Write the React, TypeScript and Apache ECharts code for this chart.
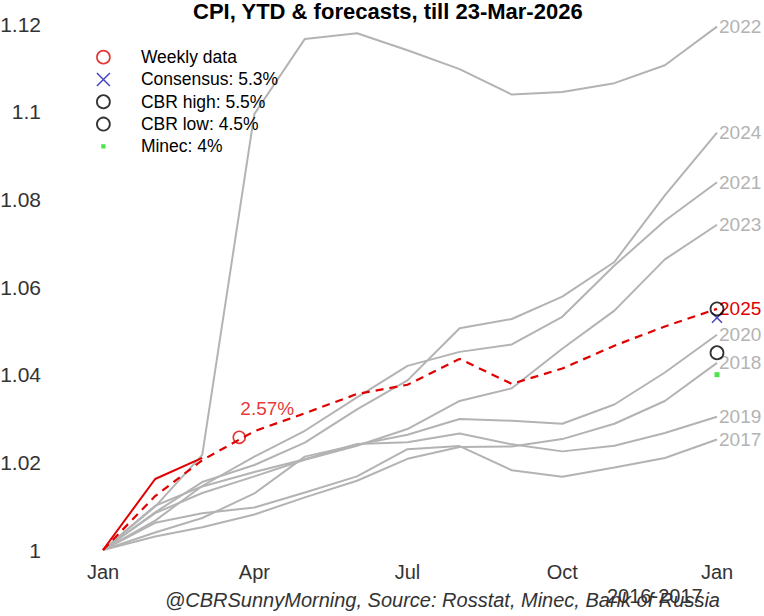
import React, { useEffect, useRef } from "react";
import * as echarts from "echarts";

// x positions: day of year at each month end (0 = 1 Jan)
const monthEndDays = [0, 31, 59, 90, 120, 151, 181, 212, 243, 273, 304, 334, 365];
const xTickDays = [0, 90, 181, 273, 365];
const xTickLabels = ["Jan", "Apr", "Jul", "Oct", "Jan"];

// Cumulative CPI since start of year (YTD), month ends
const cpi2017 = [1, 1.0062, 1.0084, 1.0097, 1.0131, 1.0168, 1.023, 1.0237, 1.0182, 1.0167, 1.0188, 1.021, 1.0252];
const cpi2018 = [1, 1.0031, 1.0052, 1.0081, 1.012, 1.0158, 1.0208, 1.0235, 1.0236, 1.0253, 1.0288, 1.034, 1.0427];
const cpi2019 = [1, 1.0101, 1.0145, 1.0178, 1.0207, 1.0242, 1.0246, 1.0266, 1.0241, 1.0225, 1.0238, 1.0267, 1.0304];
const cpi2020 = [1, 1.004, 1.0073, 1.0129, 1.0213, 1.024, 1.0263, 1.0299, 1.0295, 1.0288, 1.0332, 1.0405, 1.0491];
const cpi2021 = [1, 1.0067, 1.0146, 1.0213, 1.0272, 1.0348, 1.042, 1.0452, 1.0469, 1.0532, 1.0649, 1.0751, 1.0839];
const cpi2022 = [1, 1.0099, 1.0217, 1.0995, 1.1166, 1.1179, 1.114, 1.1097, 1.1039, 1.1045, 1.1065, 1.1106, 1.1194];
const cpi2023 = [1, 1.0084, 1.013, 1.0168, 1.0206, 1.0238, 1.0276, 1.034, 1.0369, 1.0459, 1.0546, 1.0663, 1.0742];
const cpi2024 = [1, 1.0086, 1.0155, 1.0194, 1.0245, 1.0321, 1.0387, 1.0506, 1.0527, 1.0578, 1.0657, 1.0809, 1.0952];
const cpi2025 = [1, 1.0123, 1.0205, 1.0271, 1.0312, 1.0356, 1.0377, 1.0436, 1.0379, 1.0414, 1.0466, 1.051, 1.055];
const cpi2026 = [1, 1.0162, 1.021];

const grayYears = ["2017", "2018", "2019", "2020", "2021", "2022", "2023", "2024"];
const grayValues = [cpi2017, cpi2018, cpi2019, cpi2020, cpi2021, cpi2022, cpi2023, cpi2024];

// Weekly estimate (23 Mar 2026 = day 81)
const weeklyDay = 81;
const weeklyValue = 1.0257;
const weeklyLabel = "2.57%";

// Full-year forecasts
const forecastNames = ["Consensus: 5.3%", "CBR high: 5.5%", "CBR low: 4.5%", "Minec: 4%"];
const forecastValues = [1.053, 1.055, 1.045, 1.04];

const yTicks = { min: 1, max: 1.12, interval: 0.02 };

const FONT = "'Liberation Sans', Arial, sans-serif";
const GRAY = "#b3b3b3";
const RED = "#e00000";
const BLUE = "#1414b4";
const CROSS = "path://M0,0L10,10M10,0L0,10";

export default function App() {
  const ref = useRef<HTMLDivElement>(null);

  useEffect(() => {
    if (!ref.current) return;
    const chart = echarts.init(ref.current, undefined, { renderer: "svg" });

    const pairs = (vals: number[]) => vals.map((v, i) => [monthEndDays[i], v]);

    const graySeries = grayYears.map((yr, k) => ({
      name: yr,
      type: "line",
      data: pairs(grayValues[k]),
      showSymbol: false,
      symbol: "none",
      lineStyle: { color: GRAY, width: 2 },
      itemStyle: { color: GRAY },
      endLabel: {
        show: true,
        formatter: yr,
        color: GRAY,
        fontSize: 19,
        fontFamily: FONT,
        distance: 2,
      },
      silent: true,
      z: 2,
    }));

    const forecastStyles: any[] = [
      {
        symbol: CROSS,
        symbolSize: 10,
        itemStyle: { color: "transparent", borderColor: BLUE, borderWidth: 1.5 },
      },
      {
        symbol: "circle",
        symbolSize: 13,
        itemStyle: { color: "transparent", borderColor: "#000", borderWidth: 1.8 },
      },
      {
        symbol: "circle",
        symbolSize: 13,
        itemStyle: { color: "transparent", borderColor: "#000", borderWidth: 1.8 },
      },
      {
        symbol: "rect",
        symbolSize: 5,
        itemStyle: { color: "#22dd22" },
      },
    ];

    const forecastSeries = forecastNames.map((nm, k) => ({
      name: nm,
      type: "scatter",
      data: [[365, forecastValues[k]]],
      z: 5,
      ...forecastStyles[k],
    }));

    const legendIcons: any[] = [
      { name: "Weekly data", icon: "circle", itemStyle: { color: "transparent", borderColor: RED, borderWidth: 1.6 } },
      { name: forecastNames[0], icon: CROSS, itemStyle: { color: "transparent", borderColor: BLUE, borderWidth: 1.5 } },
      { name: forecastNames[1], icon: "circle", itemStyle: { color: "transparent", borderColor: "#000", borderWidth: 1.8 } },
      { name: forecastNames[2], icon: "circle", itemStyle: { color: "transparent", borderColor: "#000", borderWidth: 1.8 } },
      { name: forecastNames[3], icon: "path://M0,0L0,0M12,12L12,12M4,4L8,4L8,8L4,8Z", itemStyle: { color: "#22dd22", borderWidth: 0 } },
    ];

    chart.setOption({
      animation: false,
      backgroundColor: "#fff",
      textStyle: { fontFamily: FONT },
      title: [
        {
          text: "CPI, YTD & forecasts, till 23-Mar-2026",
          left: 193,
          top: 0,
          padding: 0,
          textStyle: { fontFamily: FONT, fontSize: 22, fontWeight: "bold", color: "#000" },
        },
        {
          text: "@CBRSunnyMorning, Source: Rosstat, Minec, Bank of Russia",
          left: 165,
          top: 590,
          padding: 0,
          textStyle: { fontFamily: FONT, fontSize: 20, fontStyle: "italic", fontWeight: "normal", color: "#333" },
        },
        {
          text: "2016-2017",
          left: 607,
          top: 586,
          padding: 0,
          textStyle: { fontFamily: FONT, fontSize: 20, fontWeight: "normal", color: "#333" },
        },
      ],
      legend: {
        orient: "vertical",
        left: 96,
        top: 46,
        itemWidth: 13,
        itemHeight: 13,
        itemGap: 0,
        padding: 0,
        selectedMode: false,
        data: legendIcons,
        textStyle: {
          fontFamily: FONT,
          fontSize: 17.5,
          color: "#000",
          lineHeight: 22.3,
          padding: [0, 0, 0, 26],
        },
      },
      grid: { left: 103, right: 47, top: 24, bottom: 66, outerBoundsMode: "none", containLabel: false },
      xAxis: {
        type: "value",
        min: 0,
        max: 365,
        axisLine: { show: false },
        axisTick: { show: false },
        splitLine: { show: false },
        axisLabel: {
          customValues: xTickDays,
          formatter: (v: number) => {
            const i = xTickDays.indexOf(v);
            return i >= 0 ? xTickLabels[i] : "";
          },
          fontSize: 20,
          color: "#333",
          fontFamily: FONT,
          margin: 12,
        },
      },
      yAxis: {
        type: "value",
        min: yTicks.min,
        max: yTicks.max,
        interval: yTicks.interval,
        axisLine: { show: false },
        axisTick: { show: false },
        splitLine: { show: false },
        axisLabel: {
          fontSize: 21,
          color: "#333",
          fontFamily: FONT,
          margin: 62,
          formatter: (v: number) => String(parseFloat(v.toFixed(2))),
        },
      },
      series: [
        ...graySeries,
        {
          name: "2025",
          type: "line",
          data: pairs(cpi2025),
          showSymbol: false,
          symbol: "none",
          lineStyle: { color: RED, width: 2.2, type: [8, 6] },
          endLabel: { show: true, formatter: "2025", color: RED, fontSize: 19, fontFamily: FONT, distance: 2 },
          z: 3,
        },
        {
          name: "2026",
          type: "line",
          data: pairs(cpi2026),
          showSymbol: false,
          symbol: "none",
          lineStyle: { color: RED, width: 2 },
          z: 3,
        },
        {
          name: "Weekly data",
          type: "scatter",
          data: [[weeklyDay, weeklyValue]],
          symbol: "circle",
          symbolSize: 12,
          itemStyle: { color: "transparent", borderColor: RED, borderWidth: 1.6 },
          label: {
            show: true,
            position: "top",
            offset: [28, -8],
            formatter: weeklyLabel,
            color: RED,
            fontSize: 19,
            fontFamily: FONT,
          },
          z: 5,
        },
        ...forecastSeries,
      ],
    });

    return () => chart.dispose();
  }, []);

  return (
    <div
      ref={ref}
      style={{ position: "fixed", left: 0, top: 0, width: 764, height: 616, background: "#fff" }}
    />
  );
}
